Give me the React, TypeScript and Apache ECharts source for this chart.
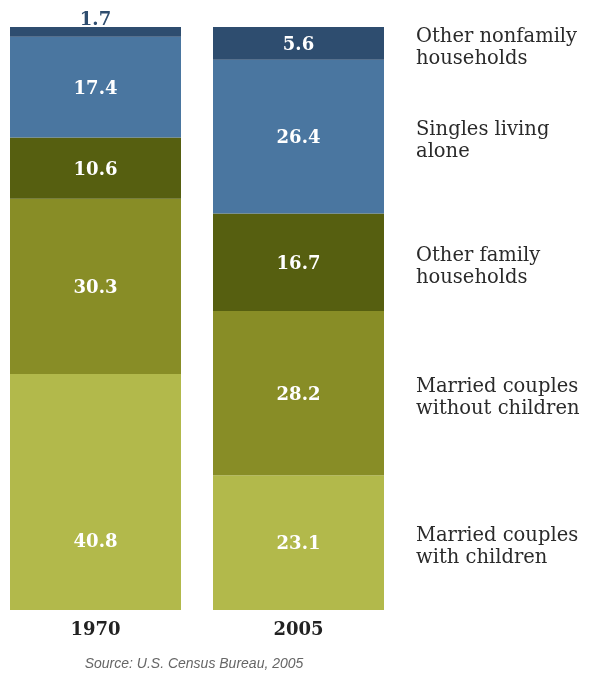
import React, { useEffect, useRef } from "react";
import * as echarts from "echarts";

const years = ["1970", "2005"];
const categories = [
  "Married couples with children",
  "Married couples without children",
  "Other family households",
  "Singles living alone",
  "Other nonfamily households",
];
const values1970 = [40.8, 30.3, 10.6, 17.4, 1.7];
const values2005 = [23.1, 28.2, 16.7, 26.4, 5.6];
const legendLines = [
  ["Married couples", "with children"],
  ["Married couples", "without children"],
  ["Other family", "households"],
  ["Singles living", "alone"],
  ["Other nonfamily", "households"],
];
const colors = ["#b2b94b", "#888d26", "#565f10", "#4a76a0", "#2e4d6f"];
const sourceText = "Source: U.S. Census Bureau, 2005";

const SERIF = "'DejaVu Serif', serif";

export default function App() {
  const ref = useRef<HTMLDivElement>(null);
  useEffect(() => {
    if (!ref.current) return;
    const chart = echarts.init(ref.current, null, { renderer: "svg" });
    const t1970 = values1970.reduce((a, b) => a + b, 0);
    const t2005 = values2005.reduce((a, b) => a + b, 0);
    const series = categories.map((name, i) => {
      let first: any = { value: (values1970[i] / t1970) * 100 };
      if (i === categories.length - 1) {
        first.label = { position: "top", color: "#2e4d6f", distance: 0 };
      } else if (i === 0) {
        first.label = { offset: [0, 48] };
      }
      return {
        name,
        type: "bar",
        stack: "total",
        barWidth: 171,
        itemStyle: { color: colors[i] },
        label: {
          show: true,
          position: "inside",
          color: "#ffffff",
          fontFamily: SERIF,
          fontWeight: "bold",
          fontSize: 18,
          formatter: (p: any) => String(p.dataIndex === 0 ? values1970[i] : values2005[i]),
        },
        data: [first, { value: (values2005[i] / t2005) * 100 }],
      };
    });
    chart.setOption({
      animation: false,
      grid: { left: -6, width: 406, top: 27, bottom: 64, outerBoundsMode: "none", containLabel: false },
      xAxis: {
        type: "category",
        data: years,
        axisLine: { show: false },
        axisTick: { show: false },
        axisLabel: {
          color: "#222222",
          fontFamily: SERIF,
          fontWeight: "bold",
          fontSize: 18,
          margin: 9,
        },
      },
      yAxis: { type: "value", min: 0, max: 100, show: false, splitLine: { show: false } },
      series,
    });
    let cum = 0;
    const graphics: any[] = [];
    values2005.forEach((v, i) => {
      const pv = (v / t2005) * 100;
      const mid = cum + pv / 2;
      cum += pv;
      const y = chart.convertToPixel({ yAxisIndex: 0 }, mid) as number;
      graphics.push({
        type: "text",
        x: 416,
        y: y + 3,
        style: {
          text: legendLines[i].join("\n"),
          fill: "#2a2a2a",
          font: `19.5px ${SERIF}`,
          lineHeight: 22,
          verticalAlign: "middle",
          align: "left",
        },
      });
    });
    graphics.push({
      type: "text",
      x: 194,
      y: 663,
      style: {
        text: sourceText,
        fill: "#666666",
        font: "italic 14px 'Liberation Sans', sans-serif",
        align: "center",
        verticalAlign: "middle",
      },
    });
    chart.setOption({ graphic: graphics });
    return () => chart.dispose();
  }, []);
  return (
    <div
      ref={ref}
      style={{ position: "fixed", left: 0, top: 0, width: 591, height: 674 }}
    />
  );
}
